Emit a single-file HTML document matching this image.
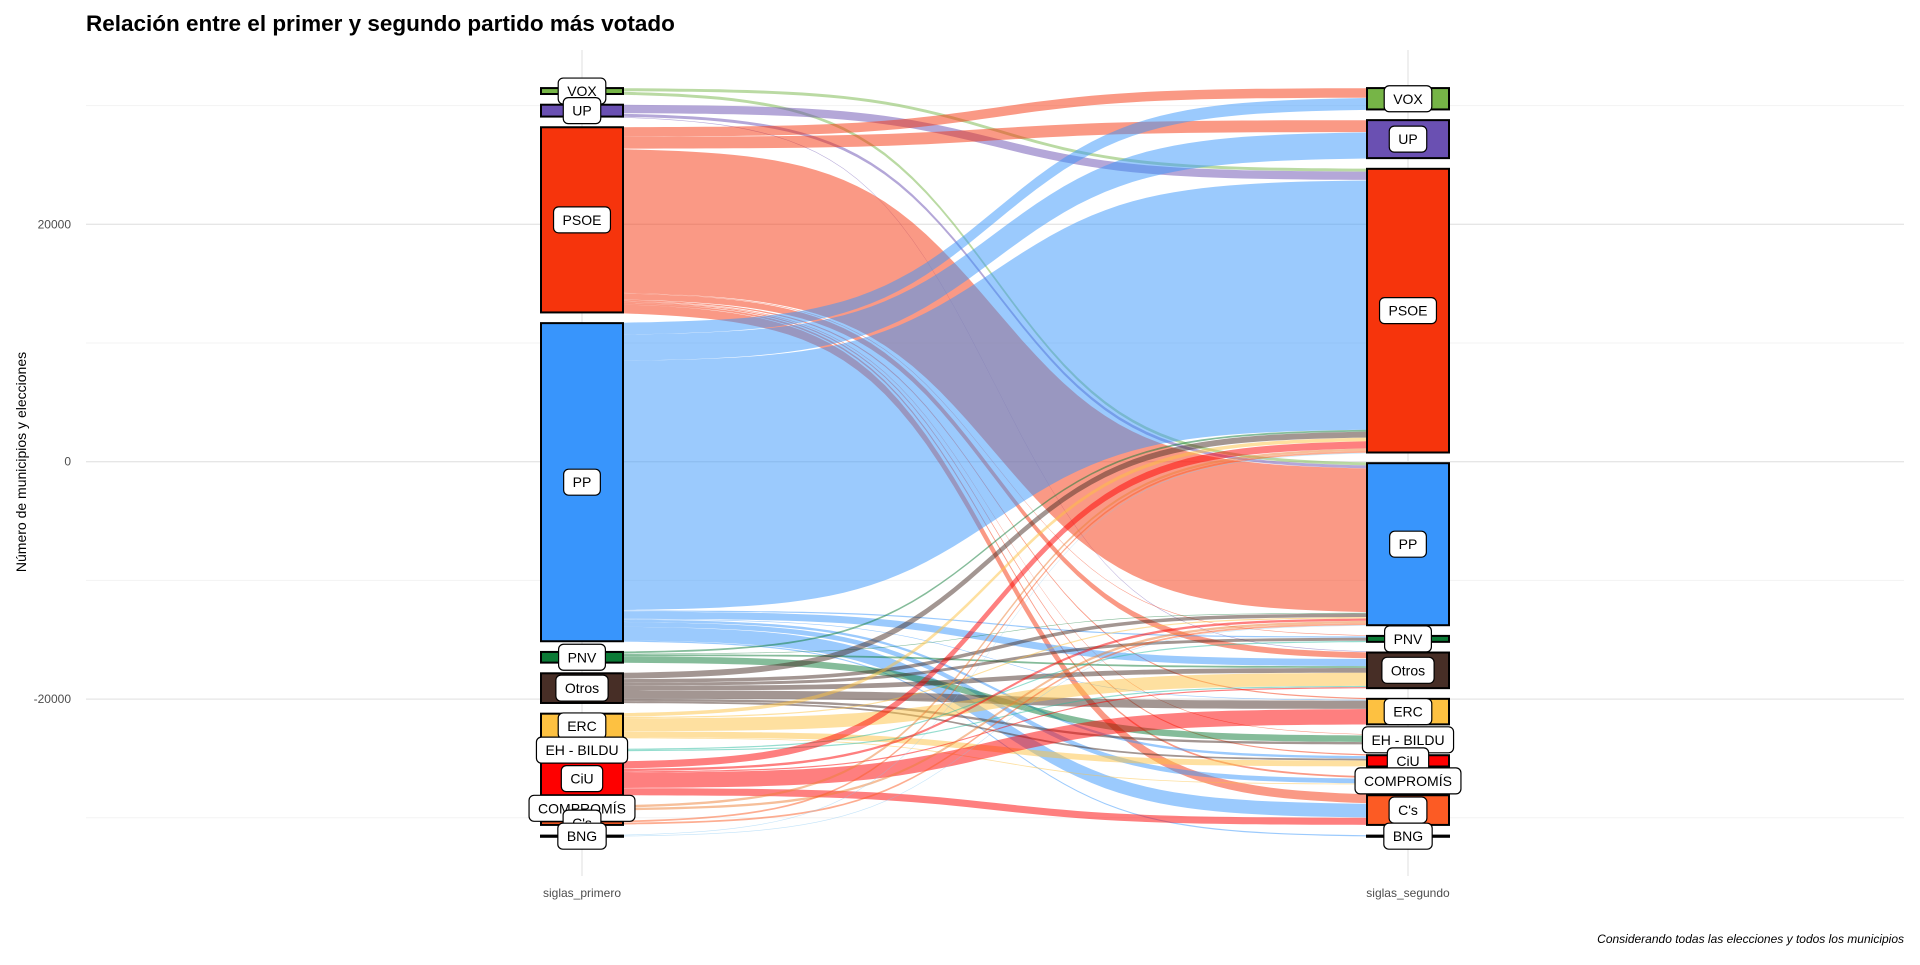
<!DOCTYPE html>
<html><head><meta charset="utf-8"><style>
body{margin:0;background:#fff;width:1920px;height:960px;overflow:hidden}
svg text{font-family:"Liberation Sans",sans-serif}
</style></head><body>
<svg id="chart" width="1920" height="960">
<rect width="1920" height="960" fill="#fff"/>
<g id="grid"></g><g id="flows"></g><g id="boxes"></g><g id="labels"></g>
<text x="86" y="31" font-size="22.5" font-weight="bold" fill="#000">Relación entre el primer y segundo partido más votado</text>
<text transform="translate(26,462) rotate(-90)" text-anchor="middle" font-size="14" fill="#000">Número de municipios y elecciones</text>
<text x="582" y="897" text-anchor="middle" font-size="12" fill="#4d4d4d">siglas_primero</text>
<text x="1408" y="897" text-anchor="middle" font-size="12" fill="#4d4d4d">siglas_segundo</text>
<text x="1904" y="943" text-anchor="end" font-size="12" font-style="italic" fill="#000">Considerando todas las elecciones y todos los municipios</text>
</svg>
<script>
const parties = ["VOX","UP","PSOE","PP","PNV","Otros","ERC","EH - BILDU","CiU","COMPROMÍS","C's","BNG"];
const colors = ["#76b547","#6a50b2","#f6340c","#3895fc","#0b7a36","#472e26","#fdc141","#2bbca0","#fe0000","#ee8036","#fc5b24","#86c7f3"];
// flows[from][to]
const flows = [
 [0,0,250,250,0,0,0,0,0,0,0,0],
 [0,0,700,250,0,50,0,0,0,0,0,0],
 [800,1000,0,12100,50,500,100,50,100,150,750,0],
 [1000,2200,21000,0,100,600,50,0,200,400,1150,100],
 [0,0,150,50,0,150,0,550,0,0,0,0],
 [0,0,500,300,250,400,700,200,150,0,0,0],
 [0,0,300,100,0,1100,0,0,500,70,0,0],
 [0,0,0,0,100,100,0,0,0,0,0,0],
 [0,0,600,200,0,100,1300,0,0,0,600,0],
 [0,0,200,200,0,0,0,0,0,0,0,0],
 [0,0,150,150,0,0,0,0,0,0,0,0],
 [0,0,50,50,0,0,0,0,0,0,0,0]
];
const yTicks = [20000,0,-20000];
const yMinor = [30000,10000,-10000,-30000];

const NS="http://www.w3.org/2000/svg";
const Y0=461.7, K=0.01187;
function yS(v){return Y0 - v*K;}
const XL=582, XR=1408, HW=41, TOP=31476, BOT=-31600;
function mk(tag,attrs,parent){const e=document.createElementNS(NS,tag);for(const k in attrs)e.setAttribute(k,attrs[k]);parent.appendChild(e);return e;}

const grid=document.getElementById('grid');
yMinor.forEach(v=>{const l=mk('line',{x1:86,x2:1904,y1:yS(v),y2:yS(v),stroke:'#f3f3f3','stroke-width':1},grid);

});
yTicks.forEach(v=>{const l=mk('line',{x1:86,x2:1904,y1:yS(v),y2:yS(v),stroke:'#e6e6e6','stroke-width':1.3},grid);


const t=mk('text',{x:71,y:yS(v)+4,'text-anchor':'end','font-size':12,fill:'#4d4d4d'},grid);t.textContent=v;

});
[XL,XR].forEach(x=>{const l=mk('line',{x1:x,x2:x,y1:50,y2:876,stroke:'#e6e6e6','stroke-width':1.3},grid);

});

const n=parties.length;
const lt=parties.map((p,i)=>flows[i].reduce((a,b)=>a+b,0));
const rt=parties.map((p,j)=>flows.reduce((a,r)=>a+r[j],0));
function stack(tot){const sum=tot.reduce((a,b)=>a+b,0);const gap=(TOP-BOT-sum)/(n-1);let cur=TOP;return tot.map(t=>{const s=cur;cur-=t+gap;return [s,s-t];});}
const ls=stack(lt), rs=stack(rt);

const fg=document.getElementById('flows');
const lcur=ls.map(s=>s[0]), rcur=rs.map(s=>s[0]);
const segs=[];
for(let i=0;i<n;i++)for(let j=0;j<n;j++){const v=flows[i][j];if(!v)continue;
 const a=lcur[i];lcur[i]-=v;segs.push([i,j,a,v]);}
for(let j=0;j<n;j++)for(let i=0;i<n;i++){const v=flows[i][j];if(!v)continue;
 const s=segs.find(q=>q[0]===i&&q[1]===j);s.push(rcur[j]);rcur[j]-=v;}
function sig(t){const a=1/(1+Math.exp(6)),b=1/(1+Math.exp(-6));return (1/(1+Math.exp(-(t*12-6)))-a)/(b-a);}
segs.forEach(([i,j,a,v,b])=>{
 const top=[],bot=[];const N=60;
 for(let k=0;k<=N;k++){const t=k/N;const x=XL+(XR-XL)*t;const s=sig(t);
  top.push([x,yS(a+(b-a)*s)]);bot.push([x,yS(a-v+(b-a)*s)]);}
 const pts=top.concat(bot.reverse()).map(p=>p[0].toFixed(1)+','+p[1].toFixed(1)).join(' ');
 const p=mk('polygon',{points:pts,fill:colors[i],'fill-opacity':0.5},fg);
 
 
});

const bg=document.getElementById('boxes'),lg=document.getElementById('labels');
function drawSide(st,x,side){st.forEach((s,i)=>{
 const y1=yS(s[0]),y2=yS(s[1]);
 const r=mk('rect',{x:x-HW,y:y1,width:2*HW,height:Math.max(y2-y1,0.5),fill:colors[i],stroke:'#000','stroke-width':2},bg);
 
 
});
st.forEach((s,i)=>{
 const cy=(yS(s[0])+yS(s[1]))/2;
 const g=mk('g',{},lg);
 
 
 const rect=mk('rect',{y:cy-13,height:26,rx:5,fill:'#fff',stroke:'#000','stroke-width':1.2},g);
 const t=mk('text',{x:x,y:cy+5,'text-anchor':'middle','font-size':14,fill:'#000'},g);t.textContent=parties[i];
 const w=t.getComputedTextLength()+18;rect.setAttribute('x',x-w/2);rect.setAttribute('width',w);
});}
drawSide(ls,XL,'left');drawSide(rs,XR,'right');
</script>
</body></html>
